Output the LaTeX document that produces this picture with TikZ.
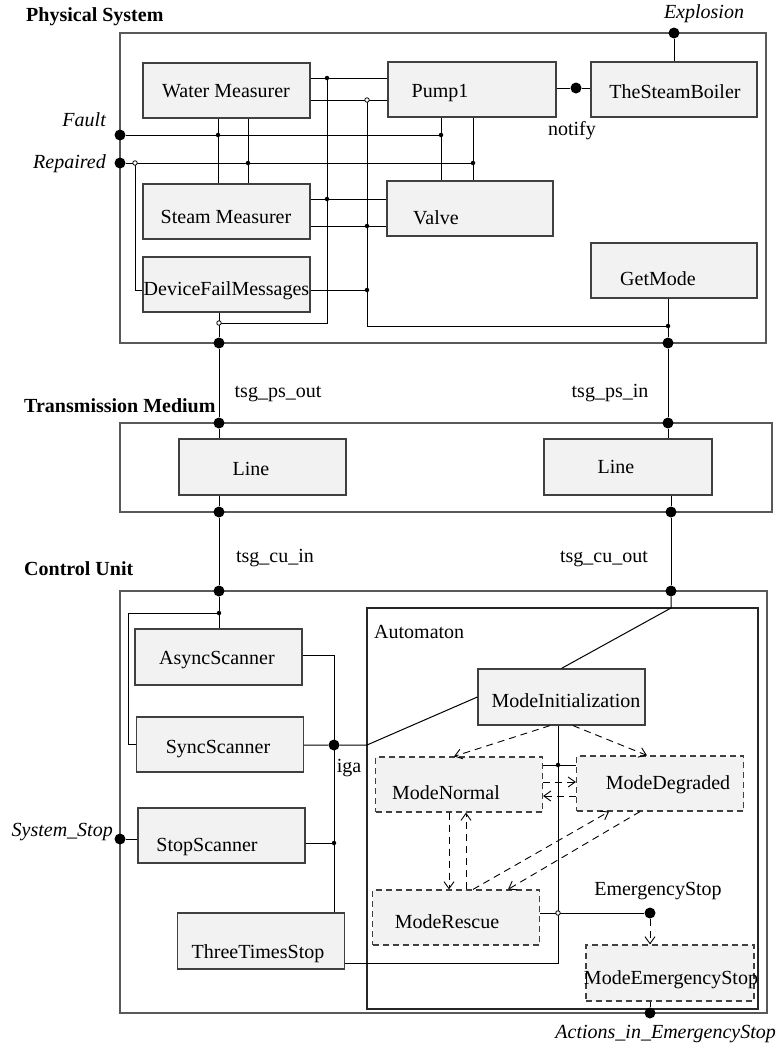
\documentclass[tikz,border=0pt]{standalone}
\usepackage{fontspec}
\setmainfont{Liberation Serif}
\usetikzlibrary{arrows.meta}

\tikzset{
	blk/.style={draw=black!75, fill=black!5, line width=1.2pt, minimum width=167pt, minimum height=55pt, inner sep=0pt},
	dblk/.style={blk, dash pattern=on 6pt off 4pt},
	frame/.style={draw=black!65, line width=1.4pt},
	wire/.style={line width=1pt},
	trans/.style={line width=0.9pt, dash pattern=on 7pt off 5pt, -{Straight Barb[length=7pt,width=10pt]}},
	bigdot/.style={circle, fill=black, inner sep=0pt, minimum size=11pt},
	smalldot/.style={circle, fill=black, inner sep=0pt, minimum size=4.5pt},
	opendot/.style={circle, draw=black, fill=white, line width=0.8pt, inner sep=0pt, minimum size=4.5pt},
	txt/.style={font=\fontsize{20}{24}\selectfont, inner sep=0pt},
}

\begin{document}
\begin{tikzpicture}[x=1pt, y=-1pt]

	\useasboundingbox (0,0) rectangle (778,1045);

	% physical system
	\draw[frame] (120,33) rectangle (766,343);
	\node[txt, anchor=base west] (pslabel) at (26,21) {\bfseries Physical System};
	\node[blk] (wm) at (226.5,90.5) {};
	\node[blk] (sm) at (226.5,211.5) {};
	\node[blk] (dfm) at (226.5,284.5) {};
	\node[blk, minimum width=168pt] (pump) at (472,89.5) {};
	\node[blk, minimum width=166pt] (valve) at (470,208.5) {};
	\node[blk, minimum width=166pt] (boiler) at (674,89.5) {};
	\node[blk, minimum width=166pt] (getmode) at (674,270.5) {};

	% ports
	\node[bigdot] (fault) at (120,135) {};
	\node[bigdot] (repaired) at (120,163) {};
	\node[bigdot] (explosion) at (674,33) {};
	\node[bigdot] (notify) at (576,88) {};
	\node[bigdot] (psout) at (219,343) {};
	\node[bigdot] (psin) at (668,343) {};

	% junctions
	\coordinate (j1) at (327,78);
	\coordinate (j2) at (367,100);
	\coordinate (j3) at (327,199);
	\coordinate (j4) at (367,226);
	\coordinate (j5) at (367,290);
	\coordinate (j6) at (219,323);
	\coordinate (j7) at (668,326);
	\coordinate (j8) at (218,135);
	\coordinate (j9) at (248,163);
	\coordinate (j10) at (441,135);
	\coordinate (j11) at (473,163);
	\coordinate (j12) at (135,163);

	% wires
	\draw[wire] (wm.east |- j1) -- (pump.west |- j1);
	\draw[wire] (wm.east |- j2) -- (pump.west |- j2);
	\draw[wire] (sm.east |- j3) -- (valve.west |- j3);
	\draw[wire] (sm.east |- j4) -- (valve.west |- j4);
	\draw[wire] (dfm.east |- j5) -- (j5);
	\draw[wire] (j1) -- (j1 |- j6) -- (j6);
	\draw[wire] (j2) -- (j2 |- j7) -- (j7);
	\draw[wire] (j6 |- dfm.south) -- (psout);
	\draw[wire] (j7 |- getmode.south) -- (psin);
	\draw[wire] (fault) -- (j10);
	\draw[wire] (repaired) -- (j11);
	\draw[wire] (wm.south -| j8) -- (sm.north -| j8);
	\draw[wire] (wm.south -| j9) -- (sm.north -| j9);
	\draw[wire] (pump.south -| j10) -- (valve.north -| j10);
	\draw[wire] (pump.south -| j11) -- (valve.north -| j11);
	\draw[wire] (j12) -- (j12 |- j5) -- (dfm.west |- j5);
	\draw[wire] (pump.east |- notify) -- (notify) -- (boiler.west |- notify);
	\draw[wire] (explosion) -- (boiler.north -| explosion);

	% junction dots
	\foreach \p in {j1,j3,j4,j5,j7,j8,j9,j10,j11}
		\node[smalldot] (d\p) at (\p) {};
	\foreach \p in {j2,j6,j12}
		\node[opendot] (o\p) at (\p) {};

	% texts
	\node[txt, anchor=base] (wmt) at (226,97) {Water Measurer};
	\node[txt, anchor=base] (smt) at (226,223) {Steam Measurer};
	\node[txt, anchor=base] (dfmt) at (226.5,295) {DeviceFailMessages};
	\node[txt, anchor=base] (pumpt) at (440,97) {Pump1};
	\node[txt, anchor=base] (valvet) at (436,224) {Valve};
	\node[txt, anchor=base] (boilert) at (675,98) {TheSteamBoiler};
	\node[txt, anchor=base] (getmodet) at (658,285) {GetMode};
	\node[txt, anchor=base east] (faultl) at (106,126) {\itshape Fault};
	\node[txt, anchor=base east] (repairedl) at (106,168) {\itshape Repaired};
	\node[txt, anchor=base] (explosionl) at (704,18) {\itshape Explosion};
	\node[txt, anchor=base] (notifyl) at (572,135) {notify};

	% transmission medium
	\draw[frame] (120,423) rectangle (772,512);
	\node[txt, anchor=base west] (tmlabel) at (24,412) {\bfseries Transmission Medium};
	\node[blk, minimum height=56pt] (line1) at (262.5,467) {};
	\node[blk, minimum width=168pt, minimum height=56pt] (line2) at (628,467) {};
	\node[txt, anchor=base] (line1t) at (251,475) {Line};
	\node[txt, anchor=base] (line2t) at (616,473) {Line};
	\node[bigdot] (tmin1) at (219,423) {};
	\node[bigdot] (tmin2) at (668,423) {};
	\node[bigdot] (tmout1) at (219,512) {};
	\node[bigdot] (tmout2) at (671,512) {};
	\node[txt, anchor=base] (psoutl) at (278,397) {tsg\_ps\_out};
	\node[txt, anchor=base] (psinl) at (610,397) {tsg\_ps\_in};
	\node[txt, anchor=base] (cuinl) at (275,562) {tsg\_cu\_in};
	\node[txt, anchor=base] (cuoutl) at (604,562) {tsg\_cu\_out};

	% control unit
	\draw[frame] (120,591) rectangle (767,1013);
	\node[txt, anchor=base west] (culabel) at (24,575) {\bfseries Control Unit};
	\node[bigdot] (cuin) at (219,591) {};
	\node[bigdot] (cuout) at (671,591) {};
	\draw[wire] (psout) -- (tmin1) -- (line1.north -| tmin1);
	\draw[wire] (psin) -- (tmin2) -- (line2.north -| tmin2);
	\draw[wire] (line1.south -| tmout1) -- (tmout1) -- (cuin);
	\draw[wire] (line2.south -| tmout2) -- (tmout2) -- (cuout);

	\node[blk, minimum height=56pt] (async) at (218.5,657) {};
	\node[blk] (sync) at (220,744.5) {};
	\node[blk] (stop) at (221.5,835.5) {};
	\node[blk, minimum height=56pt] (three) at (261,941) {};
	\node[bigdot] (sysstop) at (120,839) {};
	\node[bigdot] (iga) at (334,745) {};

	% automaton
	\draw[line width=1.2pt, black!85] (367,608) rectangle (758,1009);
	\node[txt, anchor=base west] (autolabel) at (374,638) {Automaton};
	\node[blk, minimum height=56pt] (init) at (561.5,697) {};
	\node[dblk] (normal) at (459,784.5) {};
	\node[dblk] (degraded) at (660,783.5) {};
	\node[dblk] (rescue) at (456,917.5) {};
	\node[dblk, minimum width=168pt, minimum height=56pt] (emerg) at (670,973) {};
	\node[bigdot] (estop) at (650,913) {};
	\node[bigdot] (actions) at (650,1013) {};

	% junctions
	\coordinate (k1) at (219,613);
	\coordinate (k2) at (128,613);
	\coordinate (k3) at (334,655);
	\coordinate (k4) at (334,843);
	\coordinate (k5) at (367,745);
	\coordinate (k6) at (671,608);
	\coordinate (k7) at (558,765);
	\coordinate (k8) at (558,913);
	\coordinate (k9) at (558,963);

	% wires
	\draw[wire] (cuin) -- (async.north -| cuin);
	\draw[wire] (k1) -- (k2) -- (k2 |- sync.west) -- (sync.west);
	\draw[wire] (async.east |- k3) -- (k3) -- (three.north -| k3);
	\draw[wire] (sync.east |- iga) -- (iga) -- (k5) -- (init.west);
	\draw[wire] (stop.east |- k4) -- (k4);
	\draw[wire] (sysstop) -- (stop.west |- sysstop);
	\draw[wire] (cuout) -- (k6) -- (init.north);
	\draw[wire] (init.south -| k7) -- (k9) -- (three.east |- k9);
	\draw[wire] (normal.east |- k7) -- (degraded.west |- k7);
	\draw[wire] (rescue.east |- estop) -- (estop);
	\draw[wire] (emerg.south -| actions) -- (actions);
	\foreach \p in {k1,k4,k7}
		\node[smalldot] (d\p) at (\p) {};
	\node[opendot] (ok8) at (k8) {};

	% transitions
	\draw[trans] ([xshift=-11.5pt]init.south) -- ([xshift=-5pt]normal.north);
	\draw[trans] ([xshift=11.5pt]init.south) -- ([xshift=-13pt]degraded.north);
	\draw[trans] ([yshift=2.5pt]normal.east) -- ([yshift=1.5pt]degraded.west);
	\draw[trans] ([yshift=-12.5pt]degraded.west) -- ([yshift=-11.5pt]normal.east);
	\draw[trans] ([xshift=-10pt]normal.south) -- ([xshift=-7pt]rescue.north);
	\draw[trans] ([xshift=10pt]rescue.north) -- ([xshift=7pt]normal.south);
	\draw[trans] ([xshift=17pt]rescue.north) -- ([xshift=-51pt]degraded.south);
	\draw[trans] ([xshift=-20pt]degraded.south) -- ([xshift=52pt]rescue.north);
	\draw[trans] (estop) -- (emerg.north -| estop);

	% texts
	\node[txt, anchor=base] (asynct) at (217,664) {AsyncScanner};
	\node[txt, anchor=base] (synct) at (218,753) {SyncScanner};
	\node[txt, anchor=base] (stopt) at (207,851) {StopScanner};
	\node[txt, anchor=base] (threet) at (258,958) {ThreeTimesStop};
	\node[txt, anchor=base] (initt) at (566,707) {ModeInitialization};
	\node[txt, anchor=base] (normalt) at (446,799) {ModeNormal};
	\node[txt, anchor=base] (degradedt) at (668,789) {ModeDegraded};
	\node[txt, anchor=base] (rescuet) at (447,928) {ModeRescue};
	\node[txt, anchor=base] (emergt) at (671,984) {ModeEmergencyStop};
	\node[txt, anchor=base] (igal) at (349,772) {iga};
	\node[txt, anchor=base east] (sysstopl) at (113,836) {\itshape System\_Stop};
	\node[txt, anchor=base] (estopl) at (658,895) {EmergencyStop};
	\node[txt, anchor=base east] (actionsl) at (776,1038) {\itshape Actions\_in\_EmergencyStop};

\end{tikzpicture}
\end{document}
